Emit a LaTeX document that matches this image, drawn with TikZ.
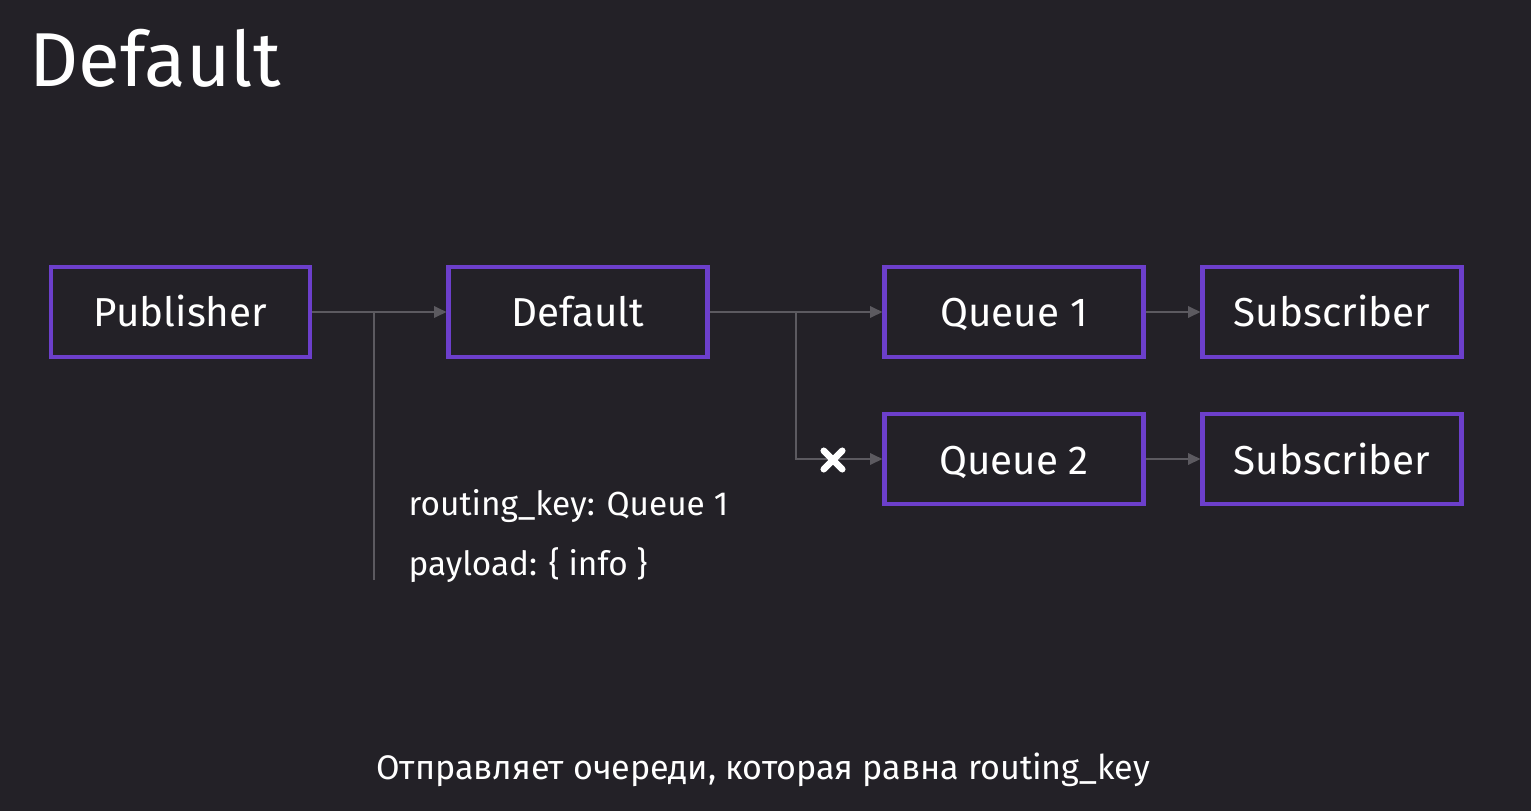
\documentclass[tikz,border=0pt]{standalone}
\usepackage{fontspec}
\setmainfont{Fira Sans}
\usepackage{xcolor}
\usetikzlibrary{arrows, arrows.meta, positioning}

\definecolor{slidebg}{HTML}{232127}
\definecolor{boxpurple}{HTML}{6C3FCB}
\definecolor{wiregray}{HTML}{5C5A60}

\begin{document}
\begin{tikzpicture}[x=0.02cm, y=-0.02cm,
			>={Triangle[length=7pt, width=6.5pt]},
			wire/.style={draw=wiregray, line width=1.2pt},
			stage/.style={draw=boxpurple, line width=2.4pt, minimum width=5.18cm,
				minimum height=1.8cm, text=white, text height=0.68cm, text depth=0.08cm,
				font=\fontsize{23}{27}\selectfont},
			note/.style={text=white, font=\fontsize{19}{23}\selectfont, inner sep=0pt},
			thick]

			\fill[slidebg] (0,0) rectangle (1531,811);
			\useasboundingbox (0,0) rectangle (1531,811);

			\node (title) [anchor=base west, inner sep=0pt, text=white,
				font=\fontsize{43.5}{50}\selectfont] at (29,87) {Default};

			% boxes
			\node (pub) [stage] at (180.5,312) {Publisher};
			\node (def) [stage] at (578,312) {Default};
			\node (q1) [stage] at (1014,312) {Queue 1};
			\node (sub1) [stage] at (1332,312) {Subscriber};
			\node (q2) [stage] at (1014,459) {Queue 2};
			\node (sub2) [stage] at (1332,459) {Subscriber};

			% wires
			\coordinate (tap) at (374,312);
			\coordinate (tapend) at (374,580);
			\coordinate (fork) at (796,312);
			\draw[wire, ->] (pub.east) -- (def.west);
			\draw[wire] (tap) -- (tapend);
			\draw[wire, ->] (def.east) -- (q1.west);
			\draw[wire, ->] (fork) |- (q2.west);
			\draw[wire, ->] (q1.east) -- (sub1.west);
			\draw[wire, ->] (q2.east) -- (sub2.west);

			% blocked route
			\node (blocked) [minimum size=0.34cm, inner sep=0pt] at (833,460) {};
			\draw[white, line width=3.8pt, line cap=round]
				(blocked.north west) -- (blocked.south east)
				(blocked.south west) -- (blocked.north east);

			\node (key) [note, anchor=base west] at (408,515) {routing\_key: Queue 1};
			\node (load) [note, anchor=base west] at (408,575) {payload: \{ info \}};

			\node (caption) [note, anchor=base, font=\fontsize{19.4}{23}\selectfont]
				at (763,779) {Отправляет очереди, которая равна routing\_key};
		\end{tikzpicture}
\end{document}
